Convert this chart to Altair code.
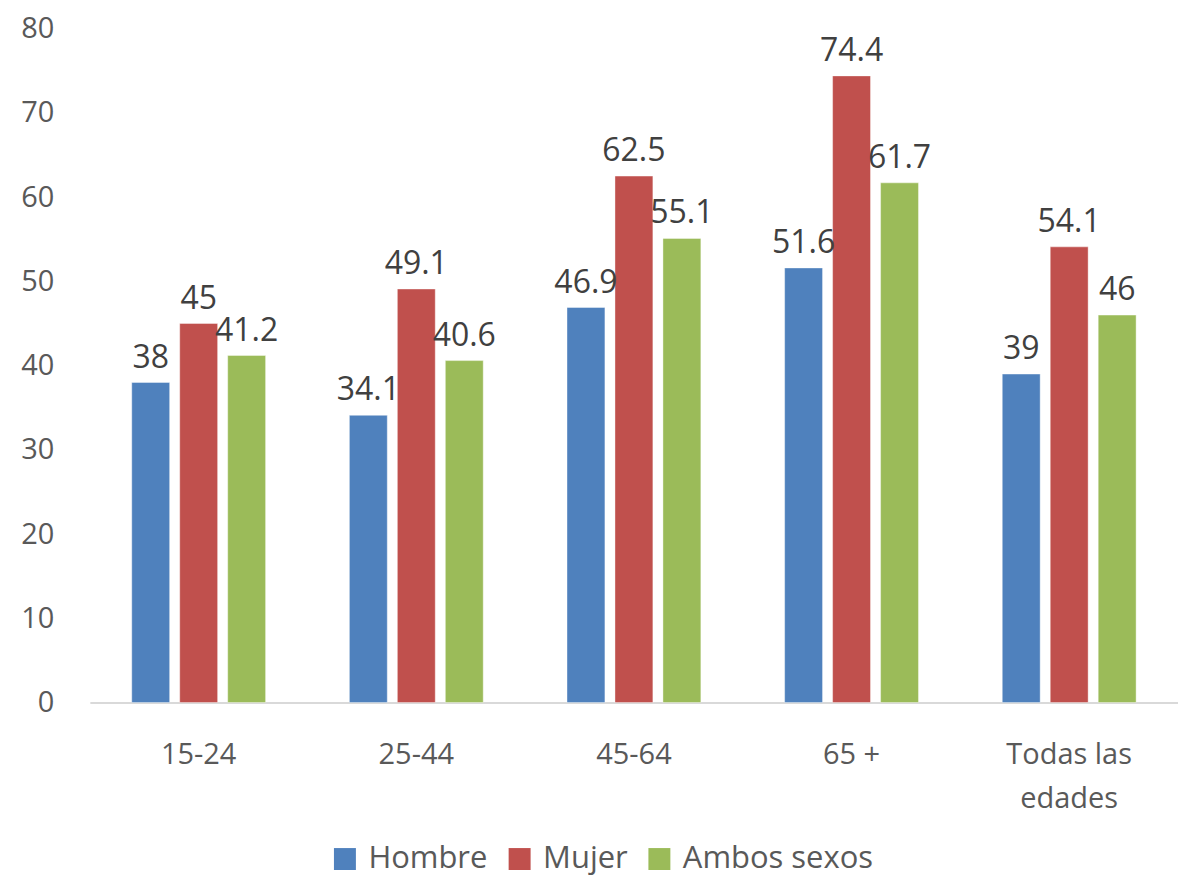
import altair as alt
import pandas as pd

categories = ["15-24", "25-44", "45-64", "65 +", "Todas las edades"]
series = ["Hombre", "Mujer", "Ambos sexos"]
hombre = [38, 34.1, 46.9, 51.6, 39]
mujer = [45, 49.1, 62.5, 74.4, 54.1]
ambos = [41.2, 40.6, 55.1, 61.7, 46]
colors = ["#4F81BD", "#C0504D", "#9BBB59"]

rows = []
for vals, s in zip([hombre, mujer, ambos], series):
    for c, v in zip(categories, vals):
        rows.append({"cat": c, "serie": s, "valor": v})
df = pd.DataFrame(rows)

FONT = "Open Sans"

x = alt.X("cat:N", sort=categories, title=None,
          scale=alt.Scale(paddingInner=0.385, paddingOuter=0.1925),
          axis=alt.Axis(labelAngle=0, ticks=False, domainColor="#D9D9D9", domainWidth=2,
                        labelFontSize=29, labelColor="#595959", labelFont=FONT,
                        labelPadding=38, labelLineHeight=44,
                        labelExpr="datum.value == 'Todas las edades' ? ['Todas las', 'edades'] : datum.label"))
xo = alt.XOffset("serie:N", sort=series, scale=alt.Scale(paddingInner=0.21, paddingOuter=0))
y = alt.Y("valor:Q", title=None,
          scale=alt.Scale(domain=[0, 80]),
          axis=alt.Axis(values=list(range(0, 81, 10)), grid=False, domain=False, ticks=False,
                        labelFontSize=29, labelColor="#595959", labelFont=FONT, labelPadding=36))
color = alt.Color("serie:N", sort=series, scale=alt.Scale(domain=series, range=colors),
                  legend=alt.Legend(title=None, orient="none", legendX=240, legendY=816,
                                    direction="horizontal", symbolType="square", symbolSize=484,
                                    symbolStrokeWidth=0, labelFontSize=31, labelColor="#595959",
                                    labelFont=FONT, columnPadding=16, labelOffset=8,
                                    labelLimit=400))

bars = alt.Chart(df).mark_bar(stroke="#ffffff", strokeOpacity=0.4, strokeWidth=1).encode(
    x=x, xOffset=xo, y=y, color=color)
labels = alt.Chart(df).mark_text(baseline="alphabetic", dy=-15, fontSize=32, font=FONT,
                                 color="#404040").encode(
    x=x, xOffset=xo, y=y, text=alt.Text("valor:Q"))

chart = (bars + labels).properties(
    width=1090, height=675,
    autosize=alt.AutoSizeParams(type="none"),
    padding={"left": 82, "top": 20, "right": 0, "bottom": 178},
).configure_view(stroke=None)

chart.save("out.html", embed_options={"renderer": "svg", "actions": False})
